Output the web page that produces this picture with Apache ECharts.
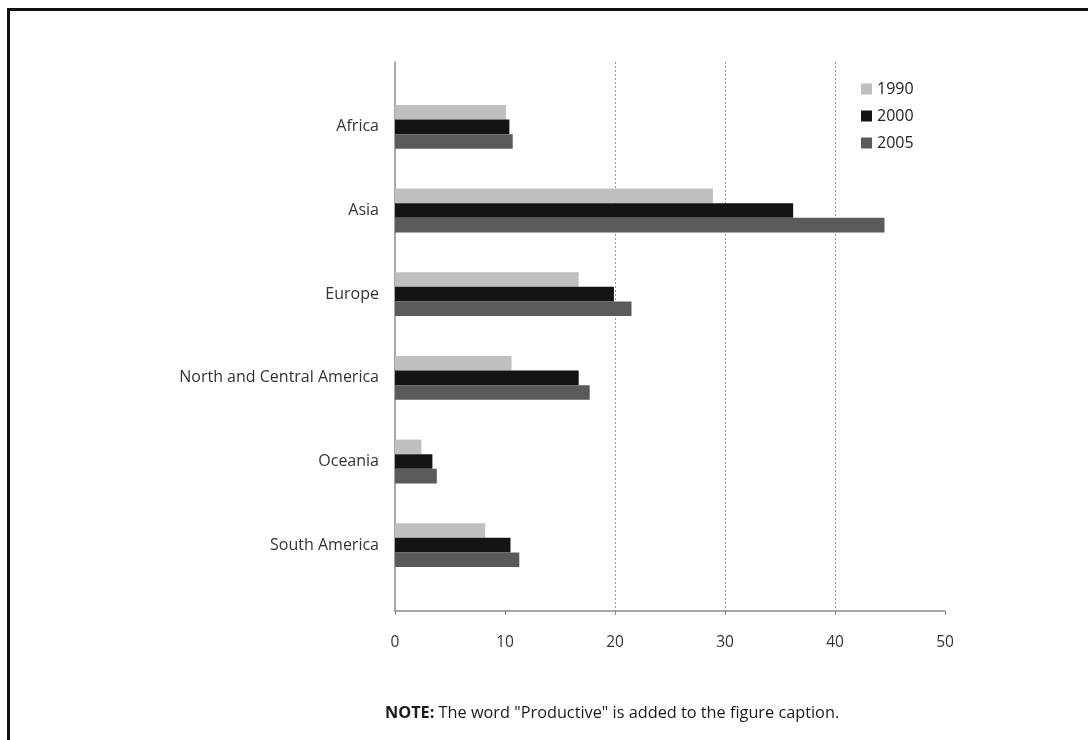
<!DOCTYPE html>
<html>
<head>
<meta charset="utf-8">
<script src="https://cdn.jsdelivr.net/npm/echarts@6/dist/echarts.min.js"></script>
<style>
  html, body { margin: 0; padding: 0; background: #fff; }
  #chart { width: 1088px; height: 740px; }
  #frame { position: absolute; left: 7px; top: 8px; right: -10px; bottom: -10px;
           border-top: 3px solid #111; border-left: 3px solid #111; pointer-events: none; }
</style>
</head>
<body>
<div id="chart"></div>
<div id="frame"></div>
<script>
const categories = ['Africa', 'Asia', 'Europe', 'North and Central America', 'Oceania', 'South America'];
const seriesNames = ['1990', '2000', '2005'];
const v1990 = [10.1, 28.9, 16.7, 10.6, 2.4, 8.2];
const v2000 = [10.4, 36.2, 19.9, 16.7, 3.4, 10.5];
const v2005 = [10.7, 44.5, 21.5, 17.7, 3.8, 11.3];
const xMin = 0, xMax = 50, xStep = 10;
const noteLabel = 'NOTE:';
const noteText = ' The word "Productive" is added to the figure caption.';

const colors = ['#bfbfbf', '#141414', '#5a5a5a'];
const font = '"Open Sans", "Noto Sans", sans-serif';

const chart = echarts.init(document.getElementById('chart'), null, { renderer: 'canvas' });
const values = [v1990, v2000, v2005];

chart.setOption({
  animation: false,
  backgroundColor: '#ffffff',
  textStyle: { fontFamily: font },
  title: {
    left: 380, top: 700,
    text: '{b|' + noteLabel + '}' + noteText,
    textStyle: {
      fontFamily: font, fontSize: 16.3, fontWeight: 'normal', color: '#1a1a1a',
      rich: { b: { fontFamily: font, fontSize: 16.3, fontWeight: 'bold', color: '#1a1a1a' } }
    }
  },
  legend: {
    orient: 'vertical', left: 856, top: 76,
    itemWidth: 11, itemHeight: 11, itemGap: 11,
    icon: 'rect',
    data: seriesNames,
    textStyle: { fontFamily: font, fontSize: 16, color: '#222' }
  },
  grid: [
    { left: 395, width: 550, top: 62, height: 549, containLabel: false },
    { left: 395, width: 550, top: 85, height: 502, containLabel: false }
  ],
  xAxis: [
    {
      gridIndex: 0, type: 'value', min: xMin, max: xMax, interval: xStep,
      axisLine: { show: true, lineStyle: { color: '#8a8a8a', width: 1.5 } },
      axisTick: { show: true, length: 4, lineStyle: { color: '#8a8a8a' } },
      axisLabel: { margin: 24, fontFamily: font, fontSize: 15.5, color: '#333' },
      splitLine: {
        show: true,
        lineStyle: {
          type: [2, 2], width: 1,
          color: ['rgba(0,0,0,0)', 'rgba(0,0,0,0)', '#9a9a9a', '#9a9a9a', '#9a9a9a', 'rgba(0,0,0,0)']
        }
      }
    },
    { gridIndex: 1, type: 'value', min: xMin, max: xMax, show: false, splitLine: { show: false } }
  ],
  yAxis: [
    {
      gridIndex: 0, type: 'value', min: 0, max: 1,
      axisLine: { show: true, lineStyle: { color: '#8a8a8a', width: 1.5 } },
      axisTick: { show: false }, axisLabel: { show: false }, splitLine: { show: false }
    },
    {
      gridIndex: 1, type: 'category', inverse: true, data: categories,
      axisLine: { show: false }, axisTick: { show: false },
      axisLabel: { margin: 16, fontFamily: font, fontSize: 16, color: '#333' },
      splitLine: { show: false }
    }
  ],
  series: seriesNames.map((name, i) => ({
    name: name, type: 'bar', xAxisIndex: 1, yAxisIndex: 1,
    data: values[i],
    barWidth: 14.6, barGap: '0%',
    itemStyle: { color: colors[i] }
  }))
});
</script>
</body>
</html>
